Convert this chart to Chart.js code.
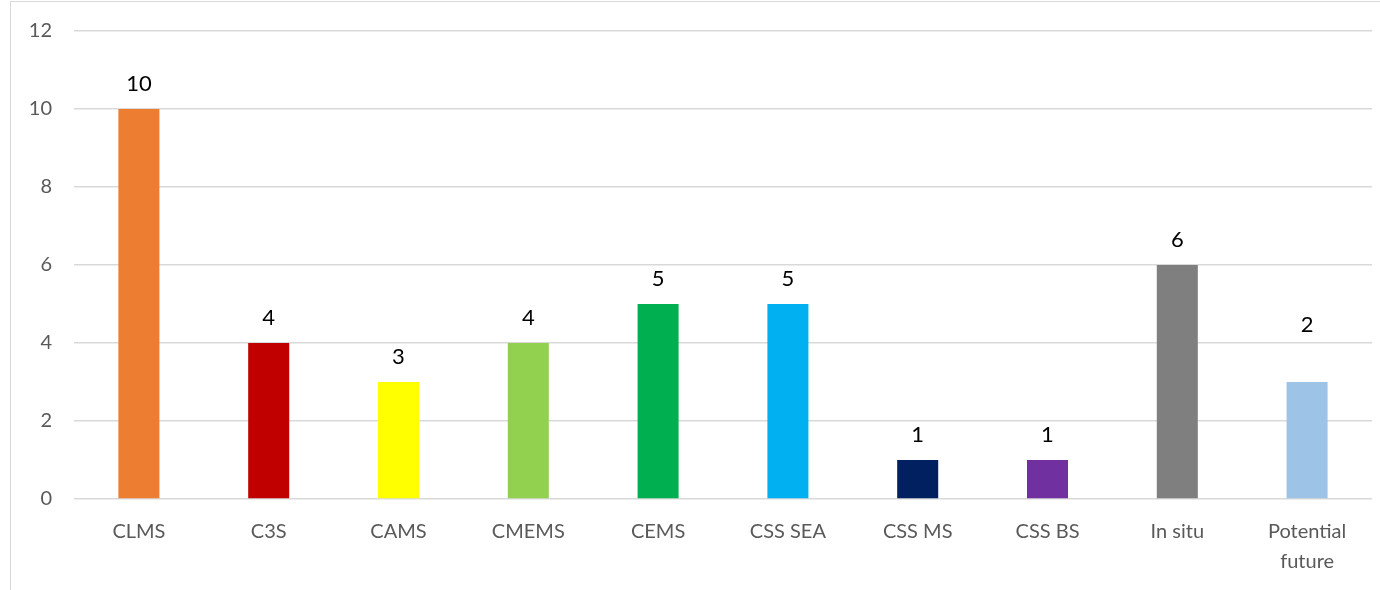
<!DOCTYPE html>
<html>
<head>
<meta charset="utf-8">
<script src="https://cdn.jsdelivr.net/npm/chart.js@4/dist/chart.umd.min.js"></script>
<style>
    html, body { margin: 0; padding: 0; background: #fff; }
    #wrap { position: relative; width: 1380px; height: 590px; overflow: hidden; }
    #frame { position: absolute; left: 10px; top: 1px; width: 1400px; height: 620px; border: 1px solid #d9d9d9; box-sizing: border-box; pointer-events: none; }
    canvas { position: absolute; left: 0; top: 0; }
</style>
</head>
<body>
<div id="wrap">
    <canvas id="servicesChart" width="1380" height="590"></canvas>
    <div id="frame"></div>
</div>
<script>
const categories = ['CLMS', 'C3S', 'CAMS', 'CMEMS', 'CEMS', 'CSS SEA', 'CSS MS', 'CSS BS', 'In situ', ['Potential', 'future']];
const counts = [10, 4, 3, 4, 5, 5, 1, 1, 6, 3];
const countLabels = ['10', '4', '3', '4', '5', '5', '1', '1', '6', '2'];
const barColors = ['#ED7D31', '#C00000', '#FFFF00', '#92D050', '#00B050', '#00B0F0', '#002060', '#7030A0', '#7F7F7F', '#9DC3E6'];
const yTicks = [0, 2, 4, 6, 8, 10, 12];

const FONT = "Lato, 'Open Sans', sans-serif";

// etiquettes au-dessus des barres
const barLabels = {
    id: 'barLabels',
    afterDatasetsDraw(chart, args, opts) {
        const { ctx } = chart;
        const meta = chart.getDatasetMeta(0);
        ctx.save();
        ctx.font = `22px ${FONT}`;
        ctx.fillStyle = '#000';
        ctx.textAlign = 'center';
        ctx.textBaseline = 'alphabetic';
        meta.data.forEach((bar, i) => {
            const extra = (opts.extraOffset && opts.extraOffset[i]) || 0;
            ctx.fillText(countLabels[i], bar.x, bar.y - 18 - extra);
        });
        ctx.restore();
    }
};

new Chart(document.getElementById('servicesChart'), {
    type: 'bar',
    data: {
        labels: categories,
        datasets: [{
            data: counts,
            backgroundColor: barColors,
            borderWidth: 0,
            barPercentage: 0.316,
            categoryPercentage: 1
        }]
    },
    options: {
        responsive: false,
        animation: false,
        layout: { padding: { top: 31, right: 8, left: 0, bottom: 0 } },
        plugins: {
            legend: { display: false },
            tooltip: { enabled: false },
            barLabels: { extraOffset: { 9: 32 } }
        },
        scales: {
            x: {
                grid: { display: false },
                border: { display: false },
                ticks: { color: '#595959', font: { family: FONT, size: 20, lineHeight: 1.5 }, padding: 10, maxRotation: 0, autoSkip: false },
                afterFit: (s) => { s.height = 91; s.paddingLeft = 0; s.paddingRight = 0; }
            },
            y: {
                min: 0, max: 12,
                afterBuildTicks: (s) => { s.ticks = yTicks.map(v => ({ value: v })); },
                grid: { color: '#d9d9d9', lineWidth: 1.5, drawTicks: false },
                border: { display: false },
                ticks: { color: '#595959', font: { family: FONT, size: 20 }, padding: 22 },
                afterFit: (s) => { s.width = 74; s.paddingTop = 0; s.paddingBottom = 0; }
            }
        }
    },
    plugins: [barLabels]
});
</script>
</body>
</html>
